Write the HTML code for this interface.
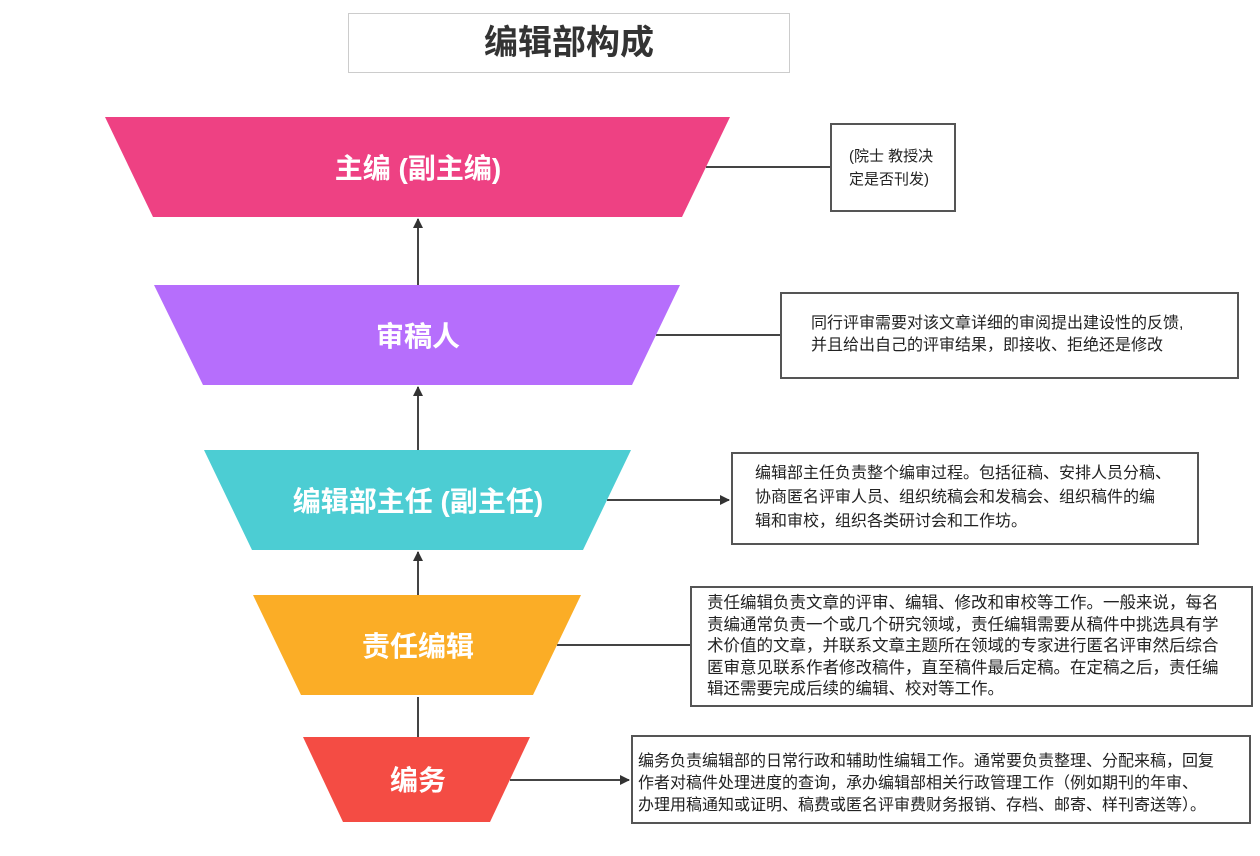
<!DOCTYPE html>
<html><head><meta charset="utf-8"><style>
body{margin:0;width:1260px;height:856px;background:#fff;position:relative;overflow:hidden;font-family:"Liberation Sans","Noto Sans CJK SC",sans-serif;}
.box{position:absolute;border:2px solid #555;box-sizing:border-box;background:#fff;color:#222;font-size:16px;line-height:25.5px;white-space:nowrap;}
.box div{position:absolute;}
</style></head><body>
<div style="position:absolute;left:348px;top:13px;width:442px;height:60px;border:1px solid #ccc;box-sizing:border-box;text-align:center;line-height:58px;font-size:34px;font-weight:bold;color:#333;">编辑部构成</div>
<svg width="1260" height="856" style="position:absolute;left:0;top:0">
<defs><marker id="a" markerWidth="10" markerHeight="10" refX="9" refY="5" orient="auto" markerUnits="userSpaceOnUse"><path d="M0,0 L10,5 L0,10 z" fill="#333"/></marker></defs>
<g stroke="#444" stroke-width="2" fill="none">
<line x1="418" y1="285" x2="418" y2="219" marker-end="url(#a)"/>
<line x1="418" y1="450" x2="418" y2="387" marker-end="url(#a)"/>
<line x1="418" y1="595" x2="418" y2="552" marker-end="url(#a)"/>
<line x1="418" y1="737" x2="418" y2="697"/>
<line x1="706" y1="167" x2="830" y2="167"/>
<line x1="656" y1="335" x2="780" y2="335"/>
<line x1="607" y1="500" x2="729" y2="500" marker-end="url(#a)"/>
<line x1="557" y1="645" x2="690" y2="645"/>
<line x1="510" y1="780" x2="629" y2="780" marker-end="url(#a)"/>
</g>
<polygon points="105,117 730,117 682,217 153,217" fill="#ee4183"/>
<polygon points="154,285 680,285 632,385 203,385" fill="#b66efc"/>
<polygon points="204,450 631,450 583,550 252,550" fill="#4ccdd3"/>
<polygon points="253,595 581,595 533,695 301,695" fill="#fbad26"/>
<polygon points="303,737 530,737 490,822 343,822" fill="#f44c44"/>
<g fill="#fff" font-size="28" font-weight="bold" text-anchor="middle" font-family="Liberation Sans,Noto Sans CJK SC,sans-serif">
<text x="418" y="178">主编 (副主编)</text>
<text x="418" y="346">审稿人</text>
<text x="418" y="511">编辑部主任 (副主任)</text>
<text x="418" y="656">责任编辑</text>
<text x="418" y="790">编务</text>
</g>
</svg>
<div class="box" style="left:830px;top:123px;width:126px;height:89px;"><div style="left:17px;top:20px;line-height:23px;font-size:15px">(院士 教授决<br>定是否刊发)</div></div>
<div class="box" style="left:780px;top:292px;width:459px;height:87px;"><div style="left:29px;top:19px;line-height:22px">同行评审需要对该文章详细的审阅提出建设性的反馈,<br>并且给出自己的评审结果，即接收、拒绝还是修改</div></div>
<div class="box" style="left:731px;top:452px;width:468px;height:93px;"><div style="left:22px;top:8px;line-height:24px">编辑部主任负责整个编审过程。包括征稿、安排人员分稿、<br>协商匿名评审人员、组织统稿会和发稿会、组织稿件的编<br>辑和审校，组织各类研讨会和工作坊。</div></div>
<div class="box" style="left:690px;top:586px;width:563px;height:121px;"><div style="left:15px;top:5px;font-size:16.5px;line-height:21.6px">责任编辑负责文章的评审、编辑、修改和审校等工作。一般来说，每名<br>责编通常负责一个或几个研究领域，责任编辑需要从稿件中挑选具有学<br>术价值的文章，并联系文章主题所在领域的专家进行匿名评审然后综合<br>匿审意见联系作者修改稿件，直至稿件最后定稿。在定稿之后，责任编<br>辑还需要完成后续的编辑、校对等工作。</div></div>
<div class="box" style="left:631px;top:735px;width:620px;height:89px;"><div style="left:5px;top:14px;font-size:16px;line-height:22px">编务负责编辑部的日常行政和辅助性编辑工作。通常要负责整理、分配来稿，回复<br>作者对稿件处理进度的查询，承办编辑部相关行政管理工作（例如期刊的年审、<br>办理用稿通知或证明、稿费或匿名评审费财务报销、存档、邮寄、样刊寄送等）。</div></div>
</body></html>
